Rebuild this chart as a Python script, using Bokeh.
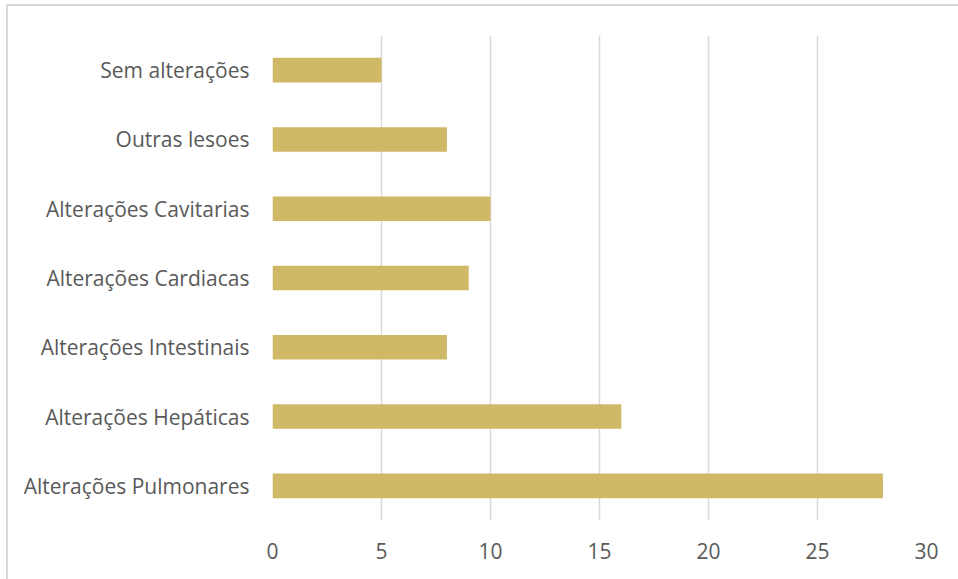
from bokeh.plotting import figure
from bokeh.models import FactorRange, Range1d, FixedTicker
from bokeh.embed import file_html
from bokeh.resources import INLINE

categories = ["Alterações Pulmonares", "Alterações Hepáticas", "Alterações Intestinais",
              "Alterações Cardiacas", "Alterações Cavitarias", "Outras lesoes", "Sem alterações"]
values = [28, 16, 8, 9, 10, 8, 5]
x_ticks = [0, 5, 10, 15, 20, 25, 30]

FONT = "Open Sans"

p = figure(width=952, height=575, output_backend="svg", toolbar_location=None,
           y_range=FactorRange(*categories, range_padding=0),
           x_range=Range1d(0, 30))
p.styles = {"border-top": "2px solid #d9d9d9", "border-left": "2px solid #d9d9d9",
            "margin-left": "6px", "margin-top": "4px"}
p.min_border_left = 264
p.min_border_right = 34
p.min_border_top = 29
p.min_border_bottom = 61
p.outline_line_color = None
p.background_fill_color = "white"
p.border_fill_color = "white"

p.hbar(y=categories, right=values, left=0, height=0.355, color="#CFB966", line_color=None)

p.xaxis.ticker = FixedTicker(ticks=x_ticks)
p.xaxis.axis_line_color = None
p.xaxis.major_tick_line_color = None
p.xaxis.minor_tick_line_color = None
p.xaxis.major_label_text_font = FONT
p.xaxis.major_label_text_font_size = "21px"
p.xaxis.major_label_text_color = "#595959"
p.xaxis.major_label_standoff = 16

p.yaxis.axis_line_color = None
p.yaxis.major_tick_line_color = None
p.yaxis.minor_tick_line_color = None
p.yaxis.major_label_text_font = FONT
p.yaxis.major_label_text_font_size = "21px"
p.yaxis.major_label_text_color = "#595959"
p.yaxis.major_label_standoff = 17

p.xgrid.grid_line_color = "#d9d9d9"
p.xgrid.grid_line_width = 1.5
p.ygrid.grid_line_color = None

open("out.html", "w").write(file_html(p, INLINE))
